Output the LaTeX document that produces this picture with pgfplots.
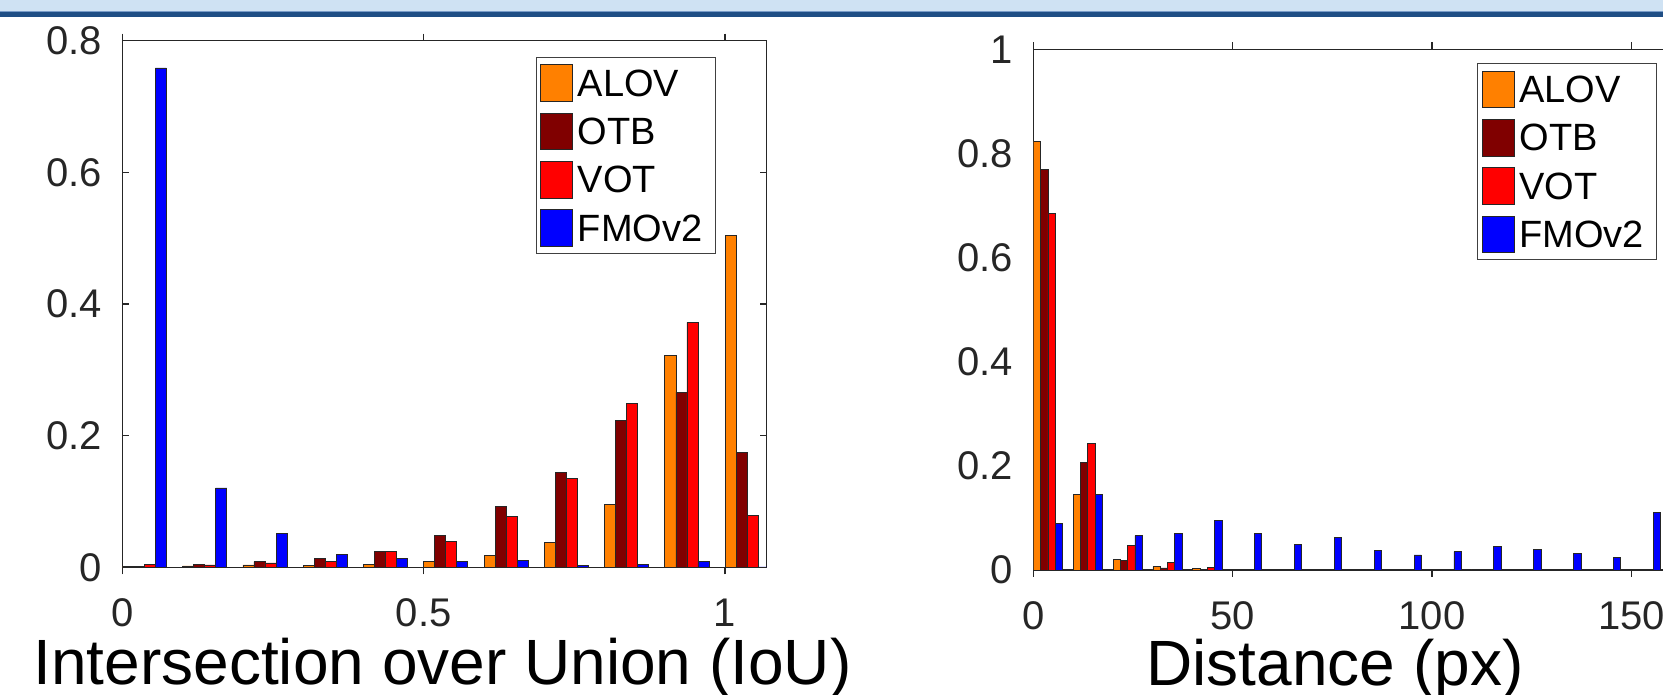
\documentclass[border=0pt]{standalone}
\usepackage{pgfplots}
\pgfplotsset{compat=1.18}
\usepackage{fontspec}
\setmainfont{Liberation Sans}
\definecolor{alov}{RGB}{255,128,0}
\definecolor{otb}{RGB}{128,0,0}
\definecolor{vot}{RGB}{255,0,0}
\definecolor{fmo}{RGB}{0,0,255}
\definecolor{bandlight}{RGB}{207,226,243}
\definecolor{bandmid}{RGB}{120,155,200}
\definecolor{banddark}{RGB}{31,78,133}
\definecolor{axgray}{RGB}{38,38,38}
\pgfplotsset{
  mystyle/.style={
    scale only axis,
    axis line style={axgray, line width=1.3pt},
    tick align=inside,
    major tick length=7pt,
    tick style={axgray, line width=1.3pt},
    every tick label/.append style={font=\fontsize{40}{46}\selectfont, text=axgray},
    /pgf/number format/assume math mode=true,
    scaled ticks=false,
    yticklabel style={anchor=east, inner sep=0pt, xshift=-20pt},
    xticklabel style={anchor=north, inner sep=0pt, yshift=-24pt},
    ymin=0,
    ybar=0pt,
    legend image code/.code={\draw[##1, draw=axgray, line width=1pt] (0pt,-18.3pt) rectangle (32pt,18.3pt);},
    legend style={font=\fontsize{38}{44}\selectfont, draw=black!75, line width=1pt,
      anchor=north east, inner xsep=4.3pt, inner ysep=6.7pt, row sep=10.8pt,
      nodes={inner sep=0pt, text depth=0pt}, cells={anchor=west},
      /tikz/every odd column/.append style={column sep=4.5pt}},
    legend cell align=left,
    xlabel style={font=\fontsize{64}{72}\selectfont, inner sep=0pt, anchor=base, text=black},
  }
}
\begin{document}
\begin{tikzpicture}[x=1pt,y=1pt]
\useasboundingbox (0,0) rectangle (1663,695);
\clip (0,0) rectangle (1663,695);
\fill[bandlight] (0,684) rectangle (1663,695);
\fill[bandmid] (0,683) rectangle (1663,684);
\fill[banddark] (0,678) rectangle (1663,683);

% Left: IoU
\begin{axis}[mystyle,
  at={(122.3pt,127.7pt)}, anchor=south west,
  width=644.4pt, height=526.6pt,
  xmin=0, xmax=1.069, ymax=0.8,
  xtick={0,0.5,1}, ytick={0,0.2,0.4,0.6,0.8},
  bar width=0.0183,
  xlabel={Intersection over Union (IoU)},
  xlabel style={at={(axis description cs:0.497,0)}, yshift=-117.7pt},
  legend style={at={(0.9207,0.9692)}},
]
\addplot[fill=alov, draw=axgray, line width=0.8pt, bar shift=-0.02745] coordinates {
(0.0367,0.001) (0.1367,0.002) (0.2367,0.0035) (0.3367,0.003) (0.4367,0.005) (0.5367,0.0084)
(0.6367,0.0183) (0.7367,0.0372) (0.8367,0.0948) (0.9367,0.3222) (1.0367,0.5045)};
\addplot[fill=otb, draw=axgray, line width=0.8pt, bar shift=-0.00915] coordinates {
(0.0367,0.0015) (0.1367,0.005) (0.2367,0.0086) (0.3367,0.0136) (0.4367,0.0236) (0.5367,0.0487)
(0.6367,0.0927) (0.7367,0.1446) (0.8367,0.2227) (0.9367,0.2661) (1.0367,0.175)};
\addplot[fill=vot, draw=axgray, line width=0.8pt, bar shift=0.00915] coordinates {
(0.0367,0.0046) (0.1367,0.0035) (0.2367,0.0066) (0.3367,0.0094) (0.4367,0.0236) (0.5367,0.0393)
(0.6367,0.0775) (0.7367,0.1352) (0.8367,0.2494) (0.9367,0.372) (1.0367,0.0786)};
\addplot[fill=fmo, draw=axgray, line width=0.8pt, bar shift=0.02745] coordinates {
(0.0367,0.7586) (0.1367,0.1205) (0.2367,0.0516) (0.3367,0.0189) (0.4367,0.0131) (0.5367,0.0089)
(0.6367,0.0105) (0.7367,0.0026) (0.8367,0.0037) (0.9367,0.0089) (1.0367,0.0005)};
\legend{ALOV,OTB,VOT,{\makebox[133pt][l]{FMOv2}}}
\end{axis}

% Right: distance
\begin{axis}[mystyle,
  at={(1033.3pt,125pt)}, anchor=south west,
  width=658pt, height=520.7pt,
  xmin=0, xmax=165, ymax=1,
  xtick={0,50,100,150}, ytick={0,0.2,0.4,0.6,0.8,1},
  bar width=1.83,
  xlabel={Distance (px)},
  xlabel style={at={(axis description cs:0.4585,0)}, yshift=-115.7pt},
  legend style={at={(0.9483,0.9731)}},
]
\addplot[fill=alov, draw=axgray, line width=0.8pt, bar shift=-2.745] coordinates {
(3.66,0.823) (13.66,0.1444) (23.66,0.0205) (33.66,0.0066) (43.66,0.0026) (53.66,0.001)
(63.66,0.0005) (73.66,0.0005) (83.66,0.0005) (93.66,0.0005) (103.66,0.0005) (113.66,0.0005)
(123.66,0.0005) (133.66,0.0005) (143.66,0.0005) (153.66,0.0005)};
\addplot[fill=otb, draw=axgray, line width=0.8pt, bar shift=-0.915] coordinates {
(3.66,0.7695) (13.66,0.2073) (23.66,0.0179) (33.66,0.004) (43.66,0.0013) (53.66,0.0007)
(63.66,0.0005) (73.66,0.0005) (83.66,0.0005) (93.66,0.0005) (103.66,0.0005) (113.66,0.0005)
(123.66,0.0005) (133.66,0.0005) (143.66,0.0005) (153.66,0.0005)};
\addplot[fill=vot, draw=axgray, line width=0.8pt, bar shift=0.915] coordinates {
(3.66,0.6854) (13.66,0.2437) (23.66,0.0464) (33.66,0.0146) (43.66,0.0053) (53.66,0.001)
(63.66,0.0005) (73.66,0.0005) (83.66,0.0005) (93.66,0.0005) (103.66,0.0005) (113.66,0.0005)
(123.66,0.0005) (133.66,0.0005) (143.66,0.0005) (153.66,0.0005)};
\addplot[fill=fmo, draw=axgray, line width=0.8pt, bar shift=2.745] coordinates {
(3.66,0.0887) (13.66,0.1444) (23.66,0.0662) (33.66,0.0695) (43.66,0.096) (53.66,0.0709)
(63.66,0.0483) (73.66,0.0629) (83.66,0.0377) (93.66,0.0288) (103.66,0.0352) (113.66,0.0448)
(123.66,0.0403) (133.66,0.032) (143.66,0.0237) (153.66,0.1113)};
\legend{ALOV,OTB,VOT,{\makebox[133pt][l]{FMOv2}}}
\end{axis}
\end{tikzpicture}
\end{document}
